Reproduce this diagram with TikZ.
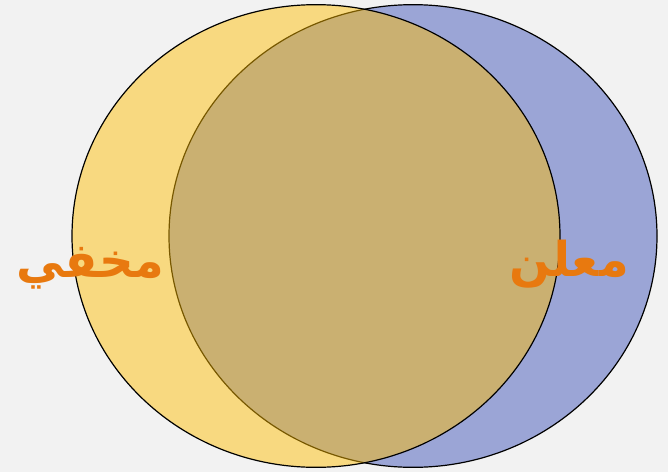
\documentclass[tikz,border=0pt]{standalone}
\usepackage{fontspec}
\newfontfamily\arabicfont[Script=Arabic]{DejaVu Sans}
\TeXXeTstate=1
\usetikzlibrary{positioning, shapes.geometric}

\definecolor{bgGray}{HTML}{F2F2F2}
\definecolor{setBlue}{HTML}{9BA5D6}
\definecolor{setGold}{HTML}{FFBD00}
\definecolor{wordOrange}{HTML}{E8790F}

\begin{document}
\begin{tikzpicture}[
    x=0.75pt, y=-0.75pt,
    setshape/.style={ellipse, draw=black, line width=0.9pt,
        minimum width=366pt, minimum height=347pt, inner sep=0pt},
    word/.style={font=\arabicfont\bfseries\fontsize{36}{40}\selectfont,
        text=wordOrange}
]

% background
\fill[bgGray] (0,0) rectangle (668,472);

% sets
\node[setshape, fill=setBlue] (declared) at (413,236) {};
\node[setshape, fill=setGold, fill opacity=0.47] (hidden) at (316,236) {};

% labels
\node[word] (hiddenlabel) at (90,268) {\beginR مخفي\endR};
\node[word] (declaredlabel) at (569,264) {\beginR معلن\endR};

\end{tikzpicture}
\end{document}
